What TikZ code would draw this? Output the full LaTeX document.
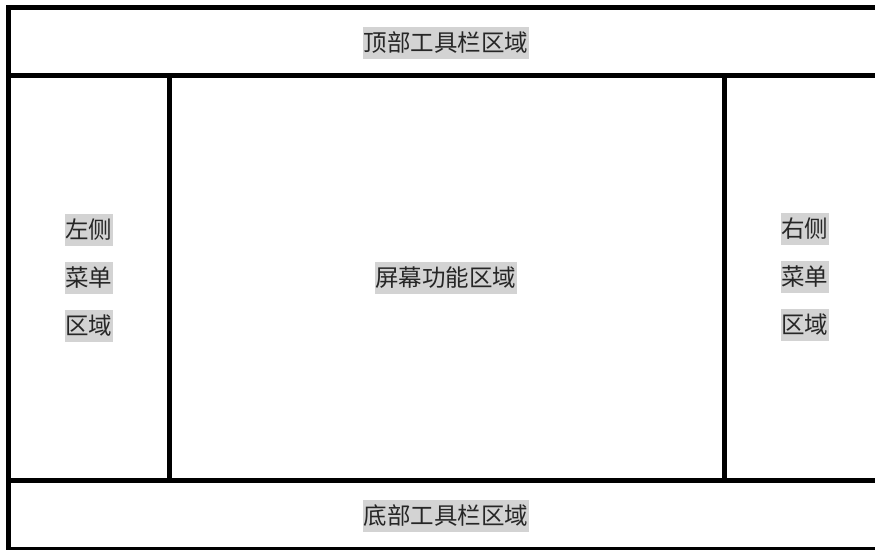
\documentclass[tikz,border=0pt]{standalone}
\usepackage{fontspec}
\newfontfamily\cjk{Noto Sans CJK SC}
\definecolor{hl}{RGB}{211,211,211}
\begin{document}
\begin{tikzpicture}[x=1pt,y=-1pt,
  region/.style={draw=black, line width=5pt, inner sep=0pt, outer sep=0pt, rectangle},
  lbl/.style={fill=hl, inner xsep=0.5pt, inner ysep=4pt, text height=20.5pt, text depth=3.5pt,
    font=\fontsize{23.5}{24}\cjk, text=black!85}]
\useasboundingbox (0,0) rectangle (875,549);
\clip (0,0) rectangle (875,549);
% regions
\node[region, minimum width=877pt, minimum height=68.5pt] (top) at (447,41.25) {};
\node[region, minimum width=161pt, minimum height=404.5pt] (left) at (89,277.75) {};
\node[region, minimum width=555pt, minimum height=404.5pt] (center) at (447,277.75) {};
\node[region, minimum width=161pt, minimum height=404.5pt] (right) at (805,277.75) {};
\node[region, minimum width=877pt, minimum height=69.5pt] (bottom) at (447,514.75) {};
% labels
\node[lbl] (ttop) at (446,43) {顶部工具栏区域};
\node[lbl] (tbot) at (446,516) {底部工具栏区域};
\node[lbl] (tcen) at (445.5,278) {屏幕功能区域};
\node[lbl] (l1) at (88.5,230) {左侧};
\node[lbl] (l2) at (88.5,278) {菜单};
\node[lbl] (l3) at (88.5,326) {区域};
\node[lbl] (r1) at (804.5,229) {右侧};
\node[lbl] (r2) at (804.5,277) {菜单};
\node[lbl] (r3) at (804.5,325) {区域};
\end{tikzpicture}
\end{document}
